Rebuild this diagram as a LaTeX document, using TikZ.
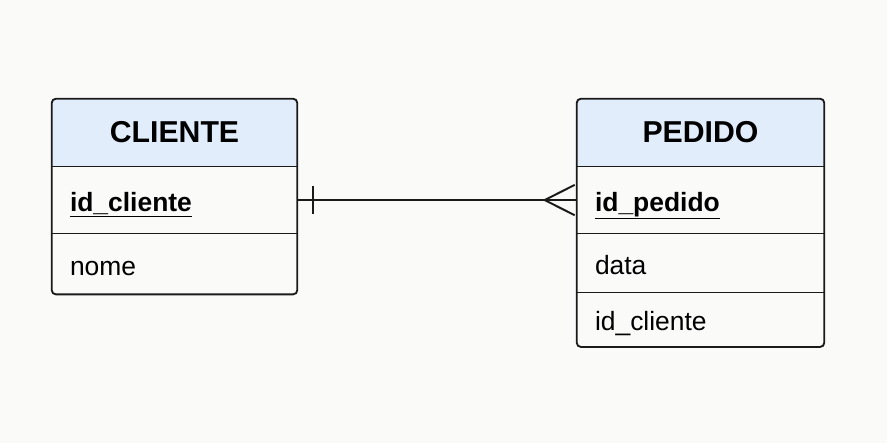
\documentclass[tikz,border=0pt]{standalone}
\usepackage{fontspec}
\setmainfont{Liberation Sans}
\usepackage{xcolor}
\usetikzlibrary{positioning,calc,arrows.meta}
\definecolor{paper}{HTML}{FAFAF9}
\definecolor{headblue}{HTML}{E2EDFB}
\definecolor{ink}{HTML}{1A1A1A}

\begin{document}
\begin{tikzpicture}[
    entity/.style={rectangle, draw=none, inner sep=0pt, minimum width=#1},
    head/.style={entity=#1, minimum height=1.675cm, font=\fontsize{21.5}{24}\selectfont\bfseries},
    attr/.style={entity=#1, align=left, text width=#1-0.9cm, inner xsep=0.45cm,
        text height=0.56cm, text depth=0cm, font=\fontsize{18.8}{22}\selectfont},
    box/.style={draw=ink, line width=1.3pt, rounded corners=3pt},
    divider/.style={draw=ink, line width=0.9pt},
    relation/.style={draw=ink, line width=1.4pt}]

    \useasboundingbox[fill=paper] (0,0) rectangle (22.175,11.075);

    % entity CLIENTE
    \node[head=6.125cm] (cliente) at (4.3625,7.7625) {CLIENTE};
    \node[attr=6.125cm, minimum height=1.675cm, below=0pt of cliente] (cid) {\underline{\bfseries id\_cliente}};
    \node[attr=6.125cm, minimum height=1.5cm, below=0pt of cid] (cnome) {nome};

    % entity PEDIDO
    \node[head=6.175cm] (pedido) at (17.5125,7.7625) {PEDIDO};
    \node[attr=6.175cm, minimum height=1.675cm, below=0pt of pedido] (pid) {\underline{\bfseries id\_pedido}};
    \node[attr=6.175cm, minimum height=1.45cm, below=0pt of pid] (pdata) {data};
    \node[attr=6.175cm, minimum height=1.35cm, below=0pt of pdata] (pcli) {id\_cliente};

    % header fills, clipped to the rounded outline
    \begin{scope}
        \clip[rounded corners=3pt] (cliente.north west) rectangle (cnome.south east);
        \fill[headblue] (cliente.north west) rectangle (cliente.south east);
    \end{scope}
    \begin{scope}
        \clip[rounded corners=3pt] (pedido.north west) rectangle (pcli.south east);
        \fill[headblue] (pedido.north west) rectangle (pedido.south east);
    \end{scope}
    \node[head=6.125cm] at (cliente) {CLIENTE};
    \node[head=6.175cm] at (pedido) {PEDIDO};

    \draw[box] (cliente.north west) rectangle (cnome.south east);
    \draw[box] (pedido.north west) rectangle (pcli.south east);
    \draw[divider] (cliente.south west) -- (cliente.south east);
    \draw[divider] (cid.south west) -- (cid.south east);
    \draw[divider] (pedido.south west) -- (pedido.south east);
    \draw[divider] (pid.south west) -- (pid.south east);
    \draw[divider] (pdata.south west) -- (pdata.south east);

    % one to many
    \draw[relation] (cid.east) -- (pid.west);
    \draw[relation] ($(cid.east)+(0.4,0.35)$) -- ($(cid.east)+(0.4,-0.35)$);
    \draw[relation] ($(pid.west)+(-0.05,0.38)$) -- ($(pid.west)+(-0.8,0)$) -- ($(pid.west)+(-0.05,-0.38)$);
\end{tikzpicture}
\end{document}
